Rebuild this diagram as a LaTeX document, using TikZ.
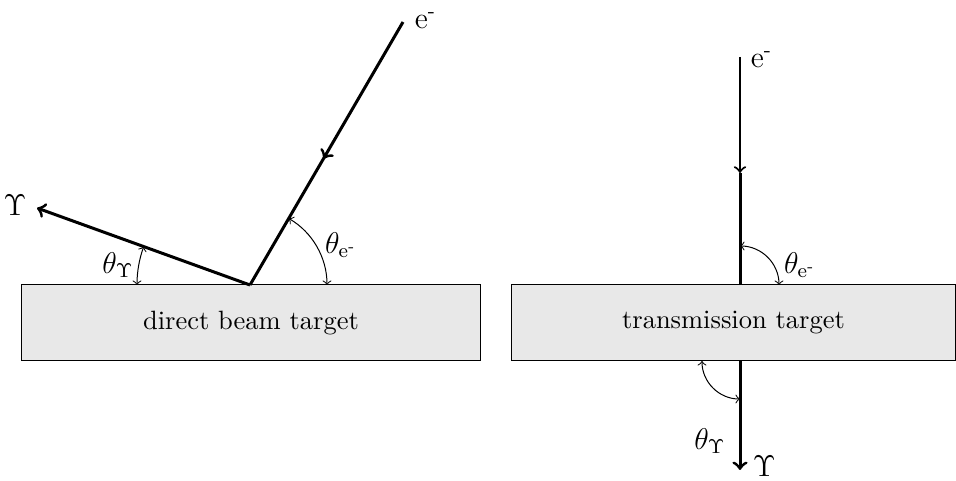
\documentclass[tikz,border=0pt]{standalone}
\usepackage{amsmath}
\usetikzlibrary{arrows, decorations.markings}
\tikzstyle{target} = [
    rectangle,
    minimum height=30.4pt,
    fill=gray!18,
    draw=black,
    inner sep=0pt,
    font=\fontsize{10.6}{12}\selectfont
]
\tikzstyle{label} = [font=\large]
\tikzstyle{beam} = [line width=1.2pt]
\tikzstyle{thinbeam} = [line width=0.85pt]
\tikzstyle{arrow} = [->,>=to]
\tikzstyle{midarrow} = [decoration={markings, mark=at position 0.52 with {\arrow{to}}}, postaction={decorate}]
\tikzstyle{angle} = [thin,<->,>=to]

\begin{document}
\begin{tikzpicture}[x=0.4pt, y=0.4pt]
\useasboundingbox (0,0) rectangle (956,481);

\node (direct) [target, minimum width=183.2pt] at (251,158)
{direct beam target};

\node (trans) [target, minimum width=177.2pt] at (733.5,158)
{transmission target};

% left: reflection geometry
\coordinate (hit) at (250,196);
\node (eleft) [label, anchor=west] at (406,460) {e\textsuperscript{-}};
\node (gleft) [label] at (15,276) {$\Upsilon$};
\coordinate (etop) at (403,459);
\coordinate (gtip) at (37,273);

\draw [beam, midarrow] (etop) -- (hit);
\draw [beam, arrow] (hit) -- (gtip);

\draw [angle] (hit) ++(180:113) arc (180:160.1:113);
\draw [angle] (hit) ++(0:77) arc (0:59.8:77);
\node (thgleft) [label] at (118,216) {$\theta_{\Upsilon}$};
\node (thelft) [label] at (341,236) {$\theta_{\mathrm{e}^{\textrm{-}}}$};

% right: transmission geometry
\coordinate (rtop) at (740,424);
\coordinate (rmid) at (740,308);
\coordinate (rin) at (740,196);
\coordinate (rout) at (740,120);
\coordinate (rtip) at (740,11);
\node (eright) [label, anchor=west] at (742,421) {e\textsuperscript{-}};
\node (gright) [label, anchor=west] at (744,15) {$\Upsilon$};

\draw [thinbeam, arrow] (rtop) -- (rmid);
\draw [beam] (rmid) -- (rin);
\draw [beam, arrow] (rout) -- (rtip);

\draw [angle] (rin) ++(90:39) arc (90:0:39);
\draw [angle] (rout) ++(180:38) arc (180:270:38);
\node (theright) [label] at (800,216) {$\theta_{\mathrm{e}^{\textrm{-}}}$};
\node (thgright) [label] at (710,40) {$\theta_{\Upsilon}$};

\end{tikzpicture}
\end{document}
